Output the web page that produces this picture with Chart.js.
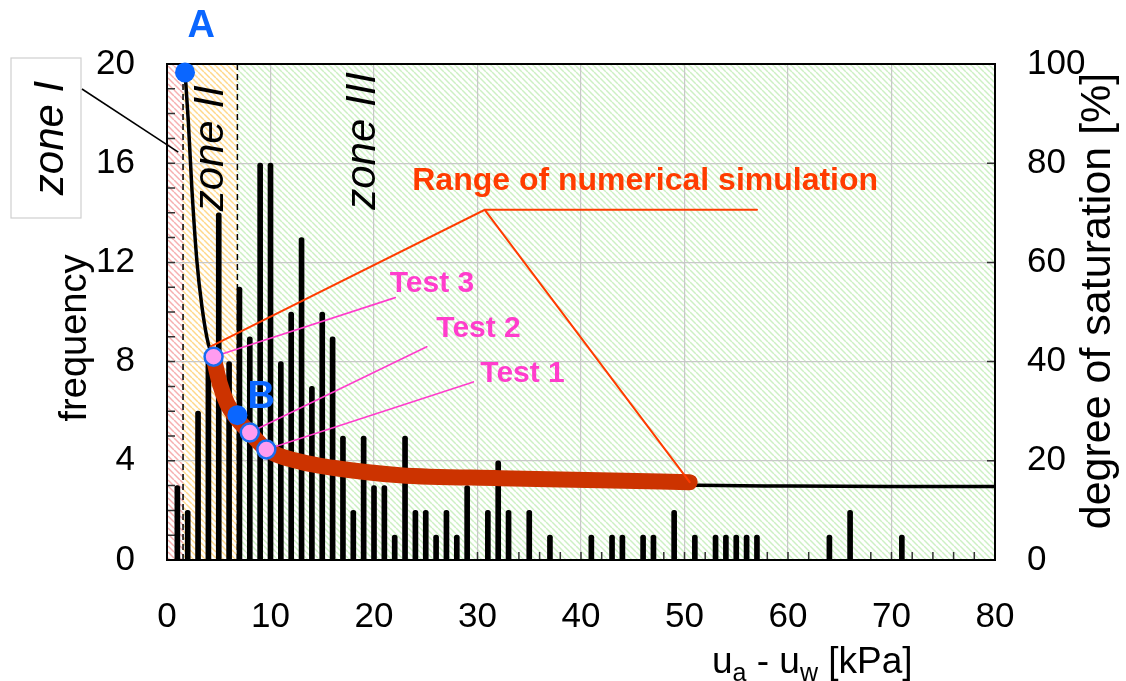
<!DOCTYPE html>
<html>
<head>
<meta charset="utf-8">
<script src="https://cdn.jsdelivr.net/npm/chart.js@4.4.1/dist/chart.umd.min.js"></script>
<style>
  html, body { margin: 0; padding: 0; background: #fff; }
</style>
</head>
<body>
<canvas id="chart" width="1126" height="681"></canvas>
<script>
// histogram of suction values (only non-zero classes)
var suction = [1, 2, 3, 4, 5, 6, 7, 8, 9, 10, 11, 12, 13, 14, 15, 16, 17, 18, 19, 20, 21, 22, 23, 24, 25, 26, 27, 28, 29,
               31, 32, 33, 35, 37, 41, 43, 44, 46, 47, 49, 51, 53, 54, 55, 56, 57, 64, 66, 71];
var frequency = [3, 2, 6, 8, 14, 8, 11, 9, 16, 16, 8, 10, 13, 7, 10, 9, 5, 2, 5, 3, 3, 1, 5, 2, 2, 1, 2, 1, 3,
                 2, 4, 2, 2, 1, 1, 1, 1, 1, 1, 2, 1, 1, 1, 1, 1, 1, 1, 2, 1];

// degree of saturation curve (black)
var satX = [1.74, 2.06, 2.4, 2.9, 3.38, 4.0, 4.5, 5.1, 5.8, 6.8, 8.0, 9.6, 12.9, 16, 22.5, 32.2, 41.8, 50.5, 60, 70, 80];
var satY = [98.4, 88.4, 75, 60, 51, 43.5, 41, 35.6, 31.6, 28.4, 25.7, 22.3, 19.8, 18.6, 17.1, 16.3, 15.7, 15.1, 14.9, 14.8, 14.8];

// range of numerical simulation (thick red)
var simX = [4.45, 5.1, 5.8, 6.8, 8.0, 9.6, 12.9, 16, 22.5, 32.2, 41.8, 50.5];
var simY = [41.3, 35.6, 31.6, 28.4, 25.7, 22.3, 19.8, 18.6, 17.1, 16.5, 16.1, 15.7];

// tests
var testNames = ['Test 1', 'Test 2', 'Test 3'];
var testX = [9.6, 8.0, 4.5];
var testY = [22.3, 25.7, 41];

// points A and B
var markNames = ['A', 'B'];
var markX = [1.74, 6.8];
var markY = [98.3, 29.2];

// zone limits
var zoneNames = ['zone I', 'zone II', 'zone III'];
var zoneFrom = [0, 1.55, 6.8];
var zoneTo = [1.55, 6.8, 80];

var FONT = "'Liberation Sans', Arial, sans-serif";
var testColor = '#ff3dcc';
var rangeColor = '#ff3c00';
var blue = '#0a66ff';

function hatch(color) {
    var c = document.createElement('canvas');
    c.width = 6; c.height = 6;
    var g = c.getContext('2d');
    g.fillStyle = '#fff';
    g.fillRect(0, 0, 6, 6);
    g.strokeStyle = color;
    g.lineWidth = 1.5;
    for (var k = -1; k <= 1; k++) {
        g.beginPath();
        g.moveTo(k * 6, 0);
        g.lineTo(k * 6 + 6, 6);
        g.stroke();
    }
    return g.createPattern(c, 'repeat');
}
var zoneFill = [hatch('#f6b0b0'), hatch('#ffd88a'), hatch('#cdf0c4')];

var decorations = {
    id: 'decorations',
    beforeDraw: function (chart) {
        var ctx = chart.ctx, a = chart.chartArea, x = chart.scales.x;
        ctx.save();
        ctx.fillStyle = '#fff';
        ctx.fillRect(0, 0, chart.width, chart.height);
        for (var i = 0; i < zoneFrom.length; i++) {
            var l = x.getPixelForValue(zoneFrom[i]), r = x.getPixelForValue(zoneTo[i]);
            ctx.fillStyle = zoneFill[i];
            ctx.fillRect(l, a.top, r - l, a.bottom - a.top);
        }
        ctx.restore();
    },
    beforeDatasetsDraw: function (chart) {
        var ctx = chart.ctx, a = chart.chartArea, s = chart.scales;
        ctx.save();
        // zone boundaries
        ctx.strokeStyle = '#000';
        ctx.lineWidth = 1.5;
        ctx.setLineDash([6, 4]);
        [zoneFrom[1], zoneFrom[2]].forEach(function (v) {
            var px = s.x.getPixelForValue(v);
            ctx.beginPath();
            ctx.moveTo(px, a.bottom);
            ctx.lineTo(px, a.top);
            ctx.stroke();
        });
        ctx.setLineDash([]);
        // inner ticks
        ctx.strokeStyle = '#333';
        ctx.lineWidth = 1.5;
        ctx.beginPath();
        for (var f = 1; f < 20; f++) {
            var py = s.y.getPixelForValue(f);
            ctx.moveTo(a.left, py); ctx.lineTo(a.left + 8, py);
        }
        for (var u = 2; u < 80; u += 2) {
            var px = s.x.getPixelForValue(u);
            ctx.moveTo(px, a.bottom); ctx.lineTo(px, a.bottom - 8);
        }
        for (var d = 20; d < 100; d += 20) {
            var py2 = s.y1.getPixelForValue(d);
            ctx.moveTo(a.right, py2); ctx.lineTo(a.right - 8, py2);
        }
        ctx.stroke();
        // frame
        ctx.strokeStyle = '#000';
        ctx.lineWidth = 2;
        ctx.strokeRect(a.left, a.top, a.right - a.left, a.bottom - a.top);
        ctx.restore();
    },
    beforeDatasetDraw: function (chart, args) {
        if (chart.data.datasets[args.index].label !== 'tests') return;
        var ctx = chart.ctx, x = chart.scales.x, y = chart.scales.y1;
        function P(vx, vy) { return [x.getPixelForValue(vx), y.getPixelForValue(vy)]; }
        ctx.save();
        ctx.lineCap = 'round';
        ctx.strokeStyle = rangeColor;
        ctx.lineWidth = 2;
        var apex = P(30.7, 70.6);
        ctx.beginPath();
        ctx.moveTo.apply(ctx, P(4.2, 43));
        ctx.lineTo(apex[0], apex[1]);
        ctx.lineTo.apply(ctx, P(57.0, 70.6));
        ctx.moveTo(apex[0], apex[1]);
        ctx.lineTo.apply(ctx, P(simX[simX.length - 1], simY[simY.length - 1]));
        ctx.stroke();
        var leadX = [29.6, 25.1, 22.05], leadY = [35.9, 43.0, 52.9];
        ctx.strokeStyle = testColor;
        ctx.lineWidth = 1.6;
        for (var i = 0; i < testX.length; i++) {
            ctx.beginPath();
            ctx.moveTo.apply(ctx, P(testX[i], testY[i]));
            ctx.lineTo.apply(ctx, P(leadX[i], leadY[i]));
            ctx.stroke();
        }
        ctx.restore();
    },
    afterDatasetsDraw: function (chart) {
        var ctx = chart.ctx, x = chart.scales.x, y = chart.scales.y1;
        function P(vx, vy) { return [x.getPixelForValue(vx), y.getPixelForValue(vy)]; }
        ctx.save();
        ctx.textAlign = 'center';
        ctx.textBaseline = 'middle';
        ctx.font = 'bold 32px ' + FONT;
        ctx.fillStyle = rangeColor;
        var p = P(46.2, 76.4);
        ctx.fillText('Range of numerical simulation', p[0], p[1]);
        ctx.font = 'bold 30px ' + FONT;
        ctx.fillStyle = testColor;
        var labX = [34.35, 30.1, 25.6], labY = [37.5, 46.6, 55.6];
        for (var i = 0; i < testNames.length; i++) {
            p = P(labX[i], labY[i]);
            ctx.fillText(testNames[i], p[0], p[1]);
        }
        ctx.font = 'bold 38px ' + FONT;
        ctx.fillStyle = blue;
        var mlX = [3.3, 9.1], mlY = [107.9, 33.1];
        for (var j = 0; j < markNames.length; j++) {
            p = P(mlX[j], mlY[j]);
            ctx.fillText(markNames[j], p[0], p[1] + 2);
        }
        // zone labels inside the plot
        ctx.fillStyle = '#000';
        ctx.font = 'italic 42px ' + FONT;
        ctx.textBaseline = 'alphabetic';
        var zX = [5.44, 20.1], zY = [83, 84.5];
        for (var k = 0; k < 2; k++) {
            p = P(zX[k], zY[k]);
            ctx.save();
            ctx.translate(p[0], p[1]);
            ctx.rotate(-Math.PI / 2);
            ctx.fillText(zoneNames[k + 1], 0, 0);
            ctx.restore();
        }
        ctx.restore();
    },
    afterDraw: function (chart) {
        var ctx = chart.ctx, x = chart.scales.x, y = chart.scales.y;
        ctx.save();
        // zone I callout box
        ctx.fillStyle = '#fff';
        ctx.fillRect(11, 58, 70, 160);
        ctx.strokeStyle = '#cfcfcf';
        ctx.lineWidth = 1.2;
        ctx.strokeRect(11, 58, 70, 160);
        ctx.strokeStyle = '#000';
        ctx.lineWidth = 1.5;
        ctx.beginPath();
        ctx.moveTo(82, 89);
        ctx.lineTo(x.getPixelForValue(1.09), y.getPixelForValue(16.45));
        ctx.stroke();
        ctx.fillStyle = '#000';
        ctx.textAlign = 'center';
        ctx.textBaseline = 'alphabetic';
        ctx.font = 'italic 42px ' + FONT;
        ctx.save();
        ctx.translate(63, 138);
        ctx.rotate(-Math.PI / 2);
        ctx.fillText(zoneNames[0], 0, 0);
        ctx.restore();
        // axis titles
        ctx.font = '38px ' + FONT;
        ctx.save();
        ctx.translate(86, 338);
        ctx.rotate(-Math.PI / 2);
        ctx.fillText('frequency', 0, 0);
        ctx.restore();
        ctx.font = '43px ' + FONT;
        ctx.save();
        ctx.translate(1110, 301);
        ctx.rotate(-Math.PI / 2);
        ctx.fillText('degree of saturation [%]', 0, 0);
        ctx.restore();
        // x title with subscripts
        ctx.textAlign = 'left';
        var bx = 712, by = 673;
        var parts = [['u', 0], ['a', 1], [' - u', 0], ['w', 1], [' [kPa]', 0]];
        parts.forEach(function (pt) {
            ctx.font = (pt[1] ? '25px ' : '37px ') + FONT;
            ctx.fillText(pt[0], bx, by + (pt[1] ? 8 : 0));
            bx += ctx.measureText(pt[0]).width;
        });
        ctx.restore();
    }
};

var tickFont = { family: FONT, size: 35 };

new Chart(document.getElementById('chart'), {
    data: {
        datasets: [{
            type: 'bar',
            label: 'frequency',
            data: suction.map(function (v, i) { return { x: v, y: frequency[i] }; }),
            yAxisID: 'y',
            backgroundColor: '#000',
            barThickness: 5,
            borderRadius: 2.5,
            order: 5
        }, {
            type: 'line',
            label: 'saturation',
            data: satX.map(function (v, i) { return { x: v, y: satY[i] }; }),
            yAxisID: 'y1',
            borderColor: '#000',
            borderWidth: 3.5,
            pointRadius: 0,
            cubicInterpolationMode: 'monotone',
            order: 4
        }, {
            type: 'line',
            label: 'simulation',
            data: simX.map(function (v, i) { return { x: v, y: simY[i] }; }),
            yAxisID: 'y1',
            borderColor: '#cc3300',
            borderWidth: 16,
            borderCapStyle: 'round',
            borderJoinStyle: 'round',
            pointRadius: 0,
            cubicInterpolationMode: 'monotone',
            order: 3
        }, {
            type: 'line',
            label: 'marks',
            data: markX.map(function (v, i) { return { x: v, y: markY[i] }; }),
            yAxisID: 'y1',
            showLine: false,
            pointRadius: 10,
            pointBackgroundColor: blue,
            pointBorderWidth: 0,
            clip: false,
            order: 2
        }, {
            type: 'line',
            label: 'tests',
            data: testX.map(function (v, i) { return { x: v, y: testY[i] }; }),
            yAxisID: 'y1',
            showLine: false,
            pointRadius: 9,
            pointBackgroundColor: '#ff9cf0',
            pointBorderColor: '#1a6cf0',
            pointBorderWidth: 2.5,
            order: 1
        }]
    },
    options: {
        responsive: false,
        animation: false,
        layout: { padding: { top: 64 } },
        plugins: { legend: { display: false }, tooltip: { enabled: false } },
        scales: {
            x: {
                type: 'linear', min: 0, max: 80, position: 'bottom', offset: false,
                ticks: { stepSize: 10, font: tickFont, color: '#000', padding: 36, maxRotation: 0 },
                grid: { color: '#c8c8c8', lineWidth: 1.2, drawTicks: false, offset: false },
                border: { color: '#000', width: 2 },
                afterFit: function (s) { s.height = 121; }
            },
            y: {
                min: 0, max: 20, position: 'left',
                ticks: { stepSize: 4, font: tickFont, color: '#000', padding: 32 },
                grid: { color: '#c8c8c8', lineWidth: 1.2, drawTicks: false },
                border: { color: '#000', width: 2 },
                afterFit: function (s) { s.width = 167; }
            },
            y1: {
                min: 0, max: 100, position: 'right',
                ticks: { stepSize: 20, font: tickFont, color: '#000', padding: 32 },
                grid: { display: false, drawTicks: false },
                border: { color: '#000', width: 2 },
                afterFit: function (s) { s.width = 131; }
            }
        }
    },
    plugins: [decorations]
});
</script>
</body>
</html>
